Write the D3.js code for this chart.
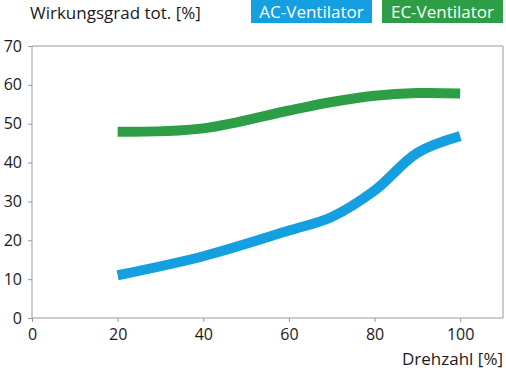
<!DOCTYPE html>
<html>
<head>
<meta charset="utf-8">
<script src="https://cdn.jsdelivr.net/npm/d3@7"></script>
<style>
  body { margin: 0; background: #fff; }
  svg text { font-family: "Open Sans", sans-serif; fill: #1a1a1a; }
  .axis path, .axis line { stroke: #999; }
  .axis text { font-size: 16px; }
</style>
</head>
<body>
<svg id="chart"></svg>
<script>
'use strict';

const drehzahl = [20, 40, 60, 70, 80, 90, 100];
const ac_vals = [11, 15.9, 22.5, 26, 32.8, 42.5, 46.8];
const ec_vals = [47.9, 48.8, 53.4, 55.6, 57.2, 57.9, 57.8];
const x_ticks = [0, 20, 40, 60, 80, 100];
const y_ticks = [0, 10, 20, 30, 40, 50, 60, 70];
const legend = [
    {name: 'AC-Ventilator', color: '#14a0e0'},
    {name: 'EC-Ventilator', color: '#2e9e46'}
];

const chart = {
    width: 506, height: 374,
    x0: 32, x1: 503, y0: 46, y1: 318
};

const svg = d3.select('#chart').attr('width', chart.width).attr('height', chart.height);

const x = d3.scaleLinear().domain([0, 110]).range([chart.x0, chart.x1]);
const y = d3.scaleLinear().domain([0, 70]).range([chart.y1, chart.y0]);

// frame: top and right lines
svg.append('path')
    .attr('d', 'M' + chart.x0 + ',' + chart.y0 + 'H' + chart.x1 + 'V' + chart.y1)
    .attr('fill', 'none')
    .attr('stroke', '#999');

svg.append('g').attr('class', 'axis')
    .attr('transform', 'translate(0,' + chart.y1 + ')')
    .call(d3.axisBottom(x).tickValues(x_ticks).tickSize(4).tickPadding(7))
    .call(g => g.select('.domain').attr('d', 'M' + chart.x0 + ',0H' + chart.x1));

svg.append('g').attr('class', 'axis')
    .attr('transform', 'translate(' + chart.x0 + ',0)')
    .call(d3.axisLeft(y).tickValues(y_ticks).tickSize(4).tickPadding(6))
    .call(g => g.select('.domain').attr('d', 'M0,' + chart.y0 + 'V' + chart.y1));

const line = d3.line()
    .x(d => x(d[0]))
    .y(d => y(d[1]))
    .curve(d3.curveCatmullRom.alpha(0.5));

[ac_vals, ec_vals].forEach(function(vals, i) {
    svg.append('path')
        .datum(drehzahl.map((d, j) => [d, vals[j]]))
        .attr('d', line)
        .attr('fill', 'none')
        .attr('stroke', legend[i].color)
        .attr('stroke-width', 10);
});

// titles
svg.append('text')
    .attr('x', 30).attr('y', 19)
    .style('font-size', '17px')
    .text('Wirkungsgrad tot. [%]');

svg.append('text')
    .attr('x', chart.x1).attr('y', 365)
    .attr('text-anchor', 'end')
    .style('font-size', '17px')
    .text('Drehzahl [%]');

// legend boxes
const legend_x = [251, 382];
legend.forEach(function(l, i) {
    svg.append('rect')
        .attr('x', legend_x[i]).attr('y', 0)
        .attr('width', 121).attr('height', 23)
        .attr('fill', l.color);
    svg.append('text')
        .attr('x', legend_x[i] + 60.5).attr('y', 18)
        .attr('text-anchor', 'middle')
        .style('font-size', '17px')
        .style('fill', '#fff')
        .text(l.name);
});
</script>
</body>
</html>
